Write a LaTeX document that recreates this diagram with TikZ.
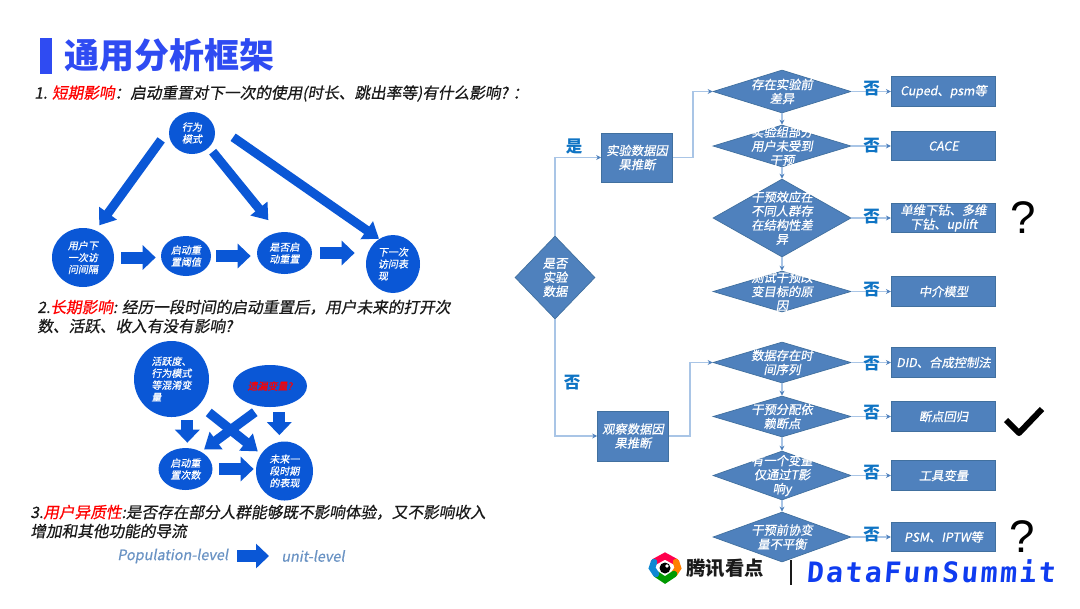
\documentclass[tikz,border=0pt]{standalone}
\usepackage{fontspec}
\usepackage{xcolor}
\usetikzlibrary{arrows.meta,shapes.geometric,calc}
\setmainfont{Noto Sans CJK SC}
\newfontfamily\cjkit[FakeSlant=0.18,FakeBold=0.6]{Noto Sans CJK SC}
\newfontfamily\brandfont[LetterSpace=8.5,FakeSlant=0.08]{DejaVu Sans Mono}
\definecolor{ink}{HTML}{1A1A1A}
\definecolor{titleBlue}{HTML}{2F4BF2}
\definecolor{solidBlue}{HTML}{0A57D6}
\definecolor{flowFill}{HTML}{4F81BD}
\definecolor{flowLine}{HTML}{41709F}
\definecolor{wireLine}{HTML}{A9C5E6}
\definecolor{noBlue}{HTML}{0F74C4}
\definecolor{softBlue}{HTML}{6A93C4}
\definecolor{brandBlue}{HTML}{0F3CF0}
\tikzset{
  >=Stealth,
  % --- text lines --------------------------------------------------------
  headline/.style  = {font=\fontsize{19.9}{22}\bfseries\selectfont, text=titleBlue, inner sep=0pt},
  bodyline/.style  = {font=\fontsize{8.9}{10.8}\cjkit\selectfont, text=ink, anchor=west,
                      align=left, inner sep=0pt},
  softlbl/.style   = {font=\fontsize{8.2}{10}\cjkit\selectfont, text=softBlue, inner sep=0pt},
  % --- solid circles and block arrows ------------------------------------
  blob/.style      = {ellipse, fill=solidBlue, inner sep=0pt, text=white, align=left,
                      font=\fontsize{5.7}{6.8}\cjkit\selectfont},
  fatarrow/.style  = {draw=solidBlue, line width=2.4mm,
                      -{Triangle[length=2.6mm,width=4.8mm]}},
  midarrow/.style  = {draw=solidBlue, line width=1.9mm,
                      -{Triangle[length=3mm,width=4.2mm]}},
  slimarrow/.style = {draw=solidBlue, line width=1.8mm,
                      -{Triangle[length=3mm,width=4.2mm]}},
  % --- flow chart ---------------------------------------------------------
  flowq/.style     = {diamond, draw=flowLine, fill=flowFill, line width=0.4pt, inner sep=0pt,
                      minimum width=27.6mm},
  flowbox/.style   = {draw=flowLine, fill=flowFill, line width=0.4pt, inner sep=0pt},
  flowtxt/.style   = {font=\fontsize{7}{8}\cjkit\selectfont, text=white, align=center, inner sep=0pt},
  wire/.style      = {draw=wireLine, line width=0.8pt,
                      -{Stealth[length=1mm,width=1mm,color=flowFill]}},
  nolbl/.style     = {font=\fontsize{9.4}{10}\bfseries\selectfont, text=noBlue, inner sep=0pt},
  marklbl/.style   = {font=\fontsize{26}{28}\fontspec{Liberation Sans}\selectfont, text=black, inner sep=0pt},
}
\begin{document}
\begin{tikzpicture}[x=0.2mm,y=-0.2mm]
\useasboundingbox (0,0) rectangle (1080,608);
\fill[white] (0,0) rectangle (1080,608);

% ==================== title and question lines =============================
\node[fill=titleBlue, minimum width=2.4mm, minimum height=7.2mm, inner sep=0pt] (tbar) at (46,55.5) {};
\node[headline, anchor=west] (title) at (64,55) {通用分析框架};
\node[bodyline] (q1) at (34,93.5)
  {1. \textcolor{red}{短期影响}：启动重置对下一次的使用(时长、跳出率等)有什么影响? ：};
\node[bodyline] (q2) at (37,316.5)
  {2.\textcolor{red}{长期影响}: 经历一段时间的启动重置后，用户未来的打开次\\数、活跃、收入有没有影响?};
\node[bodyline] (q3) at (30,521.5)
  {3.\textcolor{red}{用户异质性}:是否存在部分人群能够既不影响体验，又不影响收入\\增加和其他功能的导流};

% ==================== short term graph =====================================
\node[blob, minimum width=9.2mm, minimum height=8.4mm]  (behav)  at (192,133)   {行为\\模式};
\node[blob, minimum width=12.4mm, minimum height=11.8mm] (gap)   at (83,257.5)  {用户下\\一次访\\问间隔};
\node[blob, minimum width=10mm, minimum height=8mm]     (thres)  at (186,256)   {启动重\\置阈值};
\node[blob, minimum width=11mm, minimum height=8.4mm]   (decide) at (284.5,253) {是否启\\动重置};
\node[blob, minimum width=10.8mm, minimum height=11.6mm] (next)  at (393,264)   {下一次\\访问表\\现};

\draw[slimarrow, shorten <=2.7mm, shorten >=1.2mm] (behav.170) -- (gap.65);
\draw[slimarrow, shorten <=1.1mm, shorten >=3.1mm] (behav.-40) -- (decide.107);
\draw[slimarrow, shorten <=5mm] (behav.26) -- (next.119);
\draw[fatarrow, shorten <=1.4mm, shorten >=1mm] (gap.east) -- (gap.east -| thres.west);
\draw[fatarrow, shorten <=1mm, shorten >=1.2mm] (thres.east) -- (thres.east -| decide.west);
\draw[fatarrow, shorten <=1.6mm, shorten >=2.2mm] (decide.east) -- (decide.east -| next.west);

% ==================== long term graph ======================================
\node[blob, minimum width=15mm, minimum height=15.2mm]  (active) at (171.5,379) {活跃度、\\行为模式\\等混淆变\\量};
\node[blob, minimum width=14.8mm, minimum height=8.4mm, text=red] (omit) at (270,386) {遗漏变量?};
\node[blob, minimum width=10.8mm, minimum height=8.4mm] (reps)   at (185.5,469) {启动重\\置次数};
\node[blob, minimum width=11.4mm, minimum height=11.8mm] (future) at (284.5,471) {未来一\\段时期\\的表现};

\draw[fatarrow, shorten <=0.6mm, shorten >=1mm] (reps.85 |- active.south) -- (reps.85);
\draw[fatarrow, shorten <=1mm, shorten >=1.3mm] (future.100 |- omit.south) -- (future.100);
\draw[midarrow, shorten <=2.4mm, shorten >=0.8mm] (active.-43) -- (future.144);
\draw[midarrow, shorten <=1.8mm, shorten >=0.7mm] (omit.249) -- (reps.48);
\draw[fatarrow, shorten <=1.2mm, shorten >=0.4mm] (reps.east) -- (reps.east -| future.west);

\node[softlbl, anchor=west] (popl)  at (117,556) {Population-level};
\node[softlbl, anchor=west] (unitl) at (281,556) {unit-level};
\draw[fatarrow, shorten <=1.8mm, shorten >=2.4mm] (popl) -- (unitl);

% ==================== flow chart ===========================================
\node[flowq, minimum width=16mm, minimum height=16.6mm] (qmain) at (555,277.5) {};
\node[flowtxt] (qmaint) at (qmain) {是否\\实验\\数据};
\node[flowbox, minimum width=14.2mm, minimum height=9.8mm, flowtxt] (expbox) at (637,157.5) {实验数据因\\果推断};
\node[flowbox, minimum width=14.2mm, minimum height=10mm, flowtxt]  (obsbox) at (633,436)   {观察数据因\\果推断};

% questions and their answers
\foreach \n/\yy/\hh/\qtxt/\atxt in {%
  1/91.5/43/{存在实验前\\差异}/{Cuped、psm等},
  2/146/42/{实验组部分\\用户未受到\\干预}/{CACE},
  3/218/78/{干预效应在\\不同人群存\\在结构性差\\异}/{单维下钻、多维\\下钻、uplift},
  4/291.5/41/{测试干预改\\变目标的原\\因}/{中介模型},
  5/362.5/41/{数据存在时\\间序列}/{DID、合成控制法},
  6/416.5/41/{干预分配依\\赖断点}/{断点回归},
  7/475.5/49/{有一个变量\\仅通过T影\\响y}/{工具变量},
  8/537/50/{干预前协变\\量不平衡}/{PSM、IPTW等}}{
  \node[flowq, minimum height=\hh*0.2mm] (d\n) at (782,\yy) {};
  \node[flowtxt] (dt\n) at (d\n) {\qtxt};
  \node[flowbox, minimum width=20.9mm, minimum height=5.9mm, flowtxt] (b\n) at (943.5,\yy) {\atxt};
  \draw[wire] (d\n.east) -- (b\n.west);}

\foreach \n/\yy in {1/89, 2/146, 3/217, 4/290, 5/364, 6/413, 7/473, 8/535}{
  \node[nolbl] (no\n) at (871.5,\yy) {否};}

\foreach \a/\b in {1/2, 2/3, 3/4, 5/6, 6/7, 7/8}{
  \draw[wire] (d\a.south) -- (d\b.north);}

\draw[wire] (qmain.north) |- (expbox.west);
\draw[wire] (qmain.south) |- (obsbox.west);
\draw[wire] (expbox.east) -- ++(20,0) |- (d1.west);
\draw[wire] (obsbox.east) -- ++(21,0) |- (d5.west);
\node[nolbl] (yeslbl) at (574,146) {是};
\node[nolbl] (nolbl0) at (572,383) {否};

\node[marklbl] (qm1) at (1023,218) {?};
\node[marklbl] (qm2) at (1022,537) {?};
\draw[black, line width=1.2mm, line join=round] (1006,420) -- (1019,433) -- (1042,409);

% ==================== footer logo ==========================================
\draw[line width=1.3mm, line cap=round, draw=red!70!magenta]   (654,562) -- (665,556) -- (676,562);
\draw[line width=1.3mm, line cap=round, draw=orange]           (676,562) -- (678,568) -- (674,574);
\draw[line width=1.3mm, line cap=round, draw=green!60!black]   (674,574) -- (665,580) -- (656,574);
\draw[line width=1.3mm, line cap=round, draw=cyan!70!blue]     (656,574) -- (652,568) -- (654,562);
\fill[black] (665,568) circle (5.5);
\fill[white] (667,566) circle (1.8);
\node[font=\fontsize{11}{12}\bfseries\selectfont, text=ink, anchor=west, inner sep=0pt] (tencent) at (686,568) {腾讯看点};
\draw[ink, line width=0.6pt] (791,560) -- (791,585);
\node[font=\fontsize{16}{20}\brandfont\bfseries\selectfont, text=brandBlue, anchor=west, inner sep=0pt] (brand) at (806,571) {DataFunSummit};
\end{tikzpicture}
\end{document}
